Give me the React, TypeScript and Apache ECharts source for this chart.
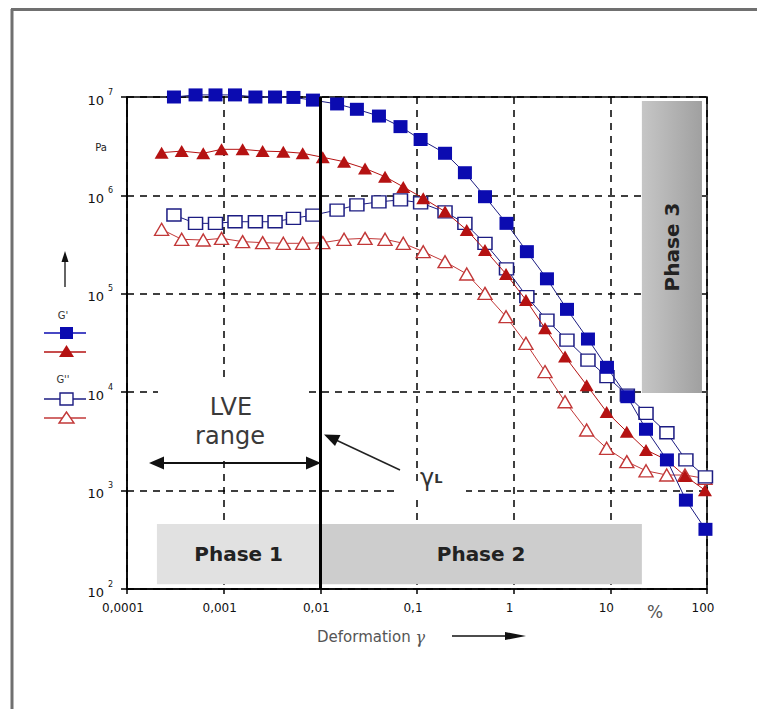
import React, { useEffect, useRef } from "react";
import * as echarts from "echarts";

// Deformation γ (%) for the square-marker sample and the triangle-marker sample
const strainSquares = [0.000306, 0.000512, 0.000823, 0.00131, 0.00213, 0.0034, 0.00527, 0.00839, 0.0149, 0.0239, 0.0404, 0.0675, 0.109, 0.195, 0.313, 0.505, 0.843, 1.37, 2.21, 3.56, 5.87, 9.23, 15.0, 23.4, 38.5, 60.5, 96.4];
const strainTriangles = [0.000228, 0.000368, 0.000615, 0.00095, 0.00157, 0.00253, 0.00414, 0.00657, 0.0106, 0.0176, 0.029, 0.0467, 0.0721, 0.116, 0.195, 0.327, 0.505, 0.834, 1.34, 2.11, 3.4, 5.69, 9.16, 14.8, 23.4, 38.3, 59.2, 95.3];

// Moduli in Pa
const gPrimeSquares = [1.0e7, 1.05e7, 1.05e7, 1.05e7, 1.0e7, 1.0e7, 9.9e6, 9.3e6, 8.5e6, 7.5e6, 6.4e6, 5.0e6, 3.7e6, 2.68e6, 1.7e6, 9.7e5, 5.2e5, 2.68e5, 1.42e5, 6.95e4, 3.47e4, 1.79e4, 9.0e3, 4.2e3, 2.05e3, 8.0e2, 4.04e2];
const gDoublePrimeSquares = [6.32e5, 5.2e5, 5.2e5, 5.4e5, 5.4e5, 5.4e5, 5.85e5, 6.3e5, 7.1e5, 8.0e5, 8.6e5, 9.0e5, 8.4e5, 6.8e5, 5.2e5, 3.26e5, 1.79e5, 9.35e4, 5.4e4, 3.39e4, 2.12e4, 1.44e4, 9.35e3, 6.1e3, 3.87e3, 2.05e3, 1.38e3];
const gPrimeTriangles = [2.72e6, 2.82e6, 2.68e6, 2.94e6, 2.94e6, 2.82e6, 2.78e6, 2.68e6, 2.44e6, 2.2e6, 1.88e6, 1.55e6, 1.22e6, 9.35e5, 6.85e5, 4.45e5, 2.79e5, 1.59e5, 8.65e4, 4.46e4, 2.3e4, 1.18e4, 6.3e3, 3.97e3, 2.59e3, 2.05e3, 1.41e3, 1.01e3];
const gDoublePrimeTriangles = [4.52e5, 3.58e5, 3.52e5, 3.66e5, 3.39e5, 3.31e5, 3.26e5, 3.26e5, 3.31e5, 3.58e5, 3.66e5, 3.58e5, 3.26e5, 2.68e5, 2.12e5, 1.59e5, 1.01e5, 5.85e4, 3.14e4, 1.62e4, 8.0e3, 4.13e3, 2.69e3, 1.97e3, 1.59e3, 1.44e3, 1.44e3, 1.33e3];

// Axis ranges
const xRange = [0.0001, 100];
const yRange = [100, 1e7];

// Limit of the linear viscoelastic range γL
const yieldStrain = 0.01;

// Phase regions [xFrom, xTo, yFrom, yTo]
const phase1 = [2.04e-4, 0.01, 112, 458];
const phase2 = [0.01, 21.2, 112, 458];
const phase3 = [21.2, 88.7, 9.8e3, 9.1e6];

const FONT = '"DejaVu Sans", Verdana, sans-serif';
const BLUE = "#0b0bb0";
const NAVY = "#1c1c82";
const RED = "#b51212";
const PINK = "#c23838";

const zip = (xs: number[], ys: number[]) => xs.map((x, i) => [x, ys[i]]);

const fmtX = (v: number) => {
  const e = Math.round(Math.log10(v));
  if (e >= 0) return String(Math.pow(10, e));
  return "0," + "0".repeat(-e - 1) + "1";
};
const fmtY = (v: number) => {
  const e = Math.round(Math.log10(v));
  return `{b|10}{s|${e}}`;
};

export default function App() {
  const ref = useRef<HTMLDivElement>(null);
  useEffect(() => {
    if (!ref.current) return;
    const chart = echarts.init(ref.current, undefined, { renderer: "svg" });
    const phaseLabel = {
      show: true,
      position: "inside",
      fontFamily: FONT,
      fontWeight: "bold",
      fontSize: 20,
      color: "#222",
    };
    const option: any = {
      animation: false,
      backgroundColor: "#fff",
      grid: {
        left: 127,
        top: 97,
        width: 580,
        height: 492,
        show: true,
        borderColor: "#000",
        borderWidth: 1.5,
        backgroundColor: "transparent",
      },
      xAxis: {
        type: "log",
        logBase: 10,
        min: xRange[0],
        max: xRange[1],
        axisLine: { lineStyle: { color: "#000", width: 1.5 } },
        axisTick: { length: 5, lineStyle: { color: "#000", width: 1.5 } },
        splitLine: { show: true, lineStyle: { color: "#000", width: 1.5, type: [7, 6] } },
        axisLabel: {
          formatter: fmtX,
          fontFamily: FONT,
          fontSize: 12,
          color: "#111",
          margin: 13,
          padding: [0, 8, 0, 0],
        },
      },
      yAxis: {
        type: "log",
        logBase: 10,
        min: yRange[0],
        max: yRange[1],
        axisLine: { lineStyle: { color: "#000", width: 1.5 } },
        axisTick: { length: 6, lineStyle: { color: "#000", width: 1.5 } },
        splitLine: { show: true, lineStyle: { color: "#000", width: 1.5, type: [7, 6] } },
        axisLabel: {
          formatter: fmtY,
          margin: 14,
          padding: [6, 0, 0, 0],
          rich: {
            b: { fontFamily: FONT, fontSize: 13, color: "#111", lineHeight: 24, verticalAlign: "middle" },
            s: { fontFamily: FONT, fontSize: 8, color: "#111", lineHeight: 24, verticalAlign: "top", padding: [0, 0, 0, 4] },
          },
        },
      },
      series: [
        {
          name: "G'' (triangles)",
          type: "line",
          data: zip(strainTriangles, gDoublePrimeTriangles),
          symbol: "triangle",
          symbolSize: [14, 12],
          itemStyle: { color: "#fff", borderColor: PINK, borderWidth: 1.4 },
          lineStyle: { color: PINK, width: 1 },
          silent: true,
          clip: false,
          z: 2,
          markArea: {
            silent: true,
            z: 1,
            data: [
              [
                { xAxis: phase1[0], yAxis: phase1[2], itemStyle: { color: "#e1e1e1" }, label: { ...phaseLabel, formatter: "Phase 1" } },
                { xAxis: phase1[1], yAxis: phase1[3] },
              ],
              [
                { xAxis: phase2[0], yAxis: phase2[2], itemStyle: { color: "#cdcdcd" }, label: { ...phaseLabel, formatter: "Phase 2" } },
                { xAxis: phase2[1], yAxis: phase2[3] },
              ],
              [
                {
                  xAxis: phase3[0],
                  yAxis: phase3[2],
                  itemStyle: {
                    color: new echarts.graphic.LinearGradient(0, 0, 1, 0, [
                      { offset: 0, color: "#c6c6c6" },
                      { offset: 1, color: "#a0a0a0" },
                    ]),
                  },
                  label: { ...phaseLabel, formatter: "Phase 3", rotate: 90 },
                },
                { xAxis: phase3[1], yAxis: phase3[3] },
              ],
            ],
          },
          markLine: {
            silent: true,
            symbol: "none",
            z: 5,
            label: { show: false },
            lineStyle: { color: "#000", width: 3, type: "solid" },
            data: [{ xAxis: yieldStrain }],
          },
        },
        {
          name: "G'' (squares)",
          type: "line",
          data: zip(strainSquares, gDoublePrimeSquares),
          symbol: "rect",
          symbolSize: [14, 12],
          itemStyle: { color: "#fff", borderColor: NAVY, borderWidth: 1.4 },
          lineStyle: { color: NAVY, width: 1 },
          silent: true,
          clip: false,
          z: 3,
        },
        {
          name: "G' (triangles)",
          type: "line",
          data: zip(strainTriangles, gPrimeTriangles),
          symbol: "triangle",
          symbolSize: [14, 12],
          itemStyle: { color: RED },
          lineStyle: { color: RED, width: 1 },
          silent: true,
          clip: false,
          z: 4,
        },
        {
          name: "G' (squares)",
          type: "line",
          data: zip(strainSquares, gPrimeSquares),
          symbol: "rect",
          symbolSize: [14, 13],
          itemStyle: { color: BLUE },
          lineStyle: { color: NAVY, width: 1 },
          silent: true,
          clip: false,
          z: 4,
        },
      ],
      graphic: [
        // outer frame
        { type: "line", z: 10, shape: { x1: 12, y1: 9, x2: 12, y2: 709 }, style: { stroke: "#707070", lineWidth: 3 } },
        { type: "line", z: 10, shape: { x1: 11, y1: 9.5, x2: 757, y2: 9.5 }, style: { stroke: "#707070", lineWidth: 3 } },
        // unit
        { type: "text", z: 10, x: 101, y: 147, style: { text: "Pa", fontFamily: FONT, fontSize: 10, fill: "#222", align: "center", verticalAlign: "middle" } },
        // vertical axis arrow
        { type: "line", z: 10, shape: { x1: 65, y1: 287, x2: 65, y2: 258 }, style: { stroke: "#111", lineWidth: 1.3 } },
        { type: "polygon", z: 10, shape: { points: [[65, 251], [61.5, 262], [68.5, 262]] }, style: { fill: "#111" } },
        // legend
        { type: "text", z: 10, x: 63, y: 315, style: { text: "G'", fontFamily: FONT, fontSize: 10, fill: "#333", align: "center", verticalAlign: "middle" } },
        { type: "line", z: 10, shape: { x1: 44, y1: 333, x2: 86, y2: 333 }, style: { stroke: BLUE, lineWidth: 1.5 } },
        { type: "rect", z: 11, shape: { x: 60, y: 327, width: 13, height: 12 }, style: { fill: BLUE } },
        { type: "line", z: 10, shape: { x1: 44, y1: 352, x2: 86, y2: 352 }, style: { stroke: RED, lineWidth: 1.5 } },
        { type: "polygon", z: 11, shape: { points: [[66.5, 345], [59, 357], [74, 357]] }, style: { fill: RED } },
        { type: "text", z: 10, x: 63, y: 379, style: { text: "G''", fontFamily: FONT, fontSize: 10, fill: "#333", align: "center", verticalAlign: "middle" } },
        { type: "line", z: 10, shape: { x1: 44, y1: 399, x2: 86, y2: 399 }, style: { stroke: NAVY, lineWidth: 1.5 } },
        { type: "rect", z: 11, shape: { x: 60, y: 393, width: 13, height: 12 }, style: { fill: "#fff", stroke: NAVY, lineWidth: 1.4 } },
        { type: "line", z: 10, shape: { x1: 44, y1: 418, x2: 86, y2: 418 }, style: { stroke: PINK, lineWidth: 1.5 } },
        { type: "polygon", z: 11, shape: { points: [[66.5, 412], [59, 423], [74, 423]] }, style: { fill: "#fff", stroke: PINK, lineWidth: 1.4 } },
        // LVE range annotation
        { type: "rect", z: 1, shape: { x: 158, y: 381, width: 148, height: 74 }, style: { fill: "#fff" } },
        { type: "text", z: 10, x: 231, y: 407, style: { text: "LVE", fontFamily: FONT, fontSize: 24, fill: "#3a3a3a", align: "center", verticalAlign: "middle" } },
        { type: "text", z: 10, x: 230, y: 436, style: { text: "range", fontFamily: FONT, fontSize: 24, fill: "#3a3a3a", align: "center", verticalAlign: "middle" } },
        { type: "line", z: 10, shape: { x1: 158, y1: 463, x2: 312, y2: 463 }, style: { stroke: "#111", lineWidth: 2 } },
        { type: "polygon", z: 10, shape: { points: [[149, 463], [164, 456.5], [164, 469.5]] }, style: { fill: "#111" } },
        { type: "polygon", z: 10, shape: { points: [[321, 463], [306, 456.5], [306, 469.5]] }, style: { fill: "#111" } },
        // γL annotation
        { type: "rect", z: 1, shape: { x: 398, y: 486, width: 68, height: 10 }, style: { fill: "#fff" } },
        { type: "line", z: 10, shape: { x1: 400, y1: 470, x2: 336, y2: 440 }, style: { stroke: "#222", lineWidth: 1.5 } },
        { type: "polygon", z: 10, shape: { points: [[324, 434.5], [335, 446], [340.5, 435]] }, style: { fill: "#111" } },
        {
          type: "text",
          z: 10,
          x: 420,
          y: 478,
          style: {
            text: "{g|γ}{l|L}",
            verticalAlign: "middle",
            rich: {
              g: { fontFamily: FONT, fontSize: 24, fill: "#333", lineHeight: 26, verticalAlign: "middle" },
              l: { fontFamily: FONT, fontSize: 13, fontWeight: "bold", fill: "#333", lineHeight: 26, verticalAlign: "middle" },
            },
          },
        },
        // x axis title
        {
          type: "text",
          z: 10,
          x: 317,
          y: 637,
          style: {
            text: "{t|Deformation }{g|γ}",
            verticalAlign: "middle",
            rich: {
              t: { fontFamily: FONT, fontSize: 15, fill: "#555" },
              g: { fontFamily: '"DejaVu Serif", serif', fontStyle: "italic", fontSize: 16, fill: "#555" },
            },
          },
        },
        { type: "line", z: 10, shape: { x1: 452, y1: 636, x2: 512, y2: 636 }, style: { stroke: "#111", lineWidth: 1.5 } },
        { type: "polygon", z: 10, shape: { points: [[526, 636], [505, 632], [505, 640]] }, style: { fill: "#111" } },
        { type: "text", z: 10, x: 655, y: 612, style: { text: "%", fontFamily: FONT, fontSize: 17, fill: "#555", align: "center", verticalAlign: "middle" } },
      ],
    };
    chart.setOption(option);
    return () => chart.dispose();
  }, []);
  return (
    <div
      ref={ref}
      style={{ position: "fixed", left: 0, top: 0, width: 757, height: 709, background: "#fff" }}
    />
  );
}
